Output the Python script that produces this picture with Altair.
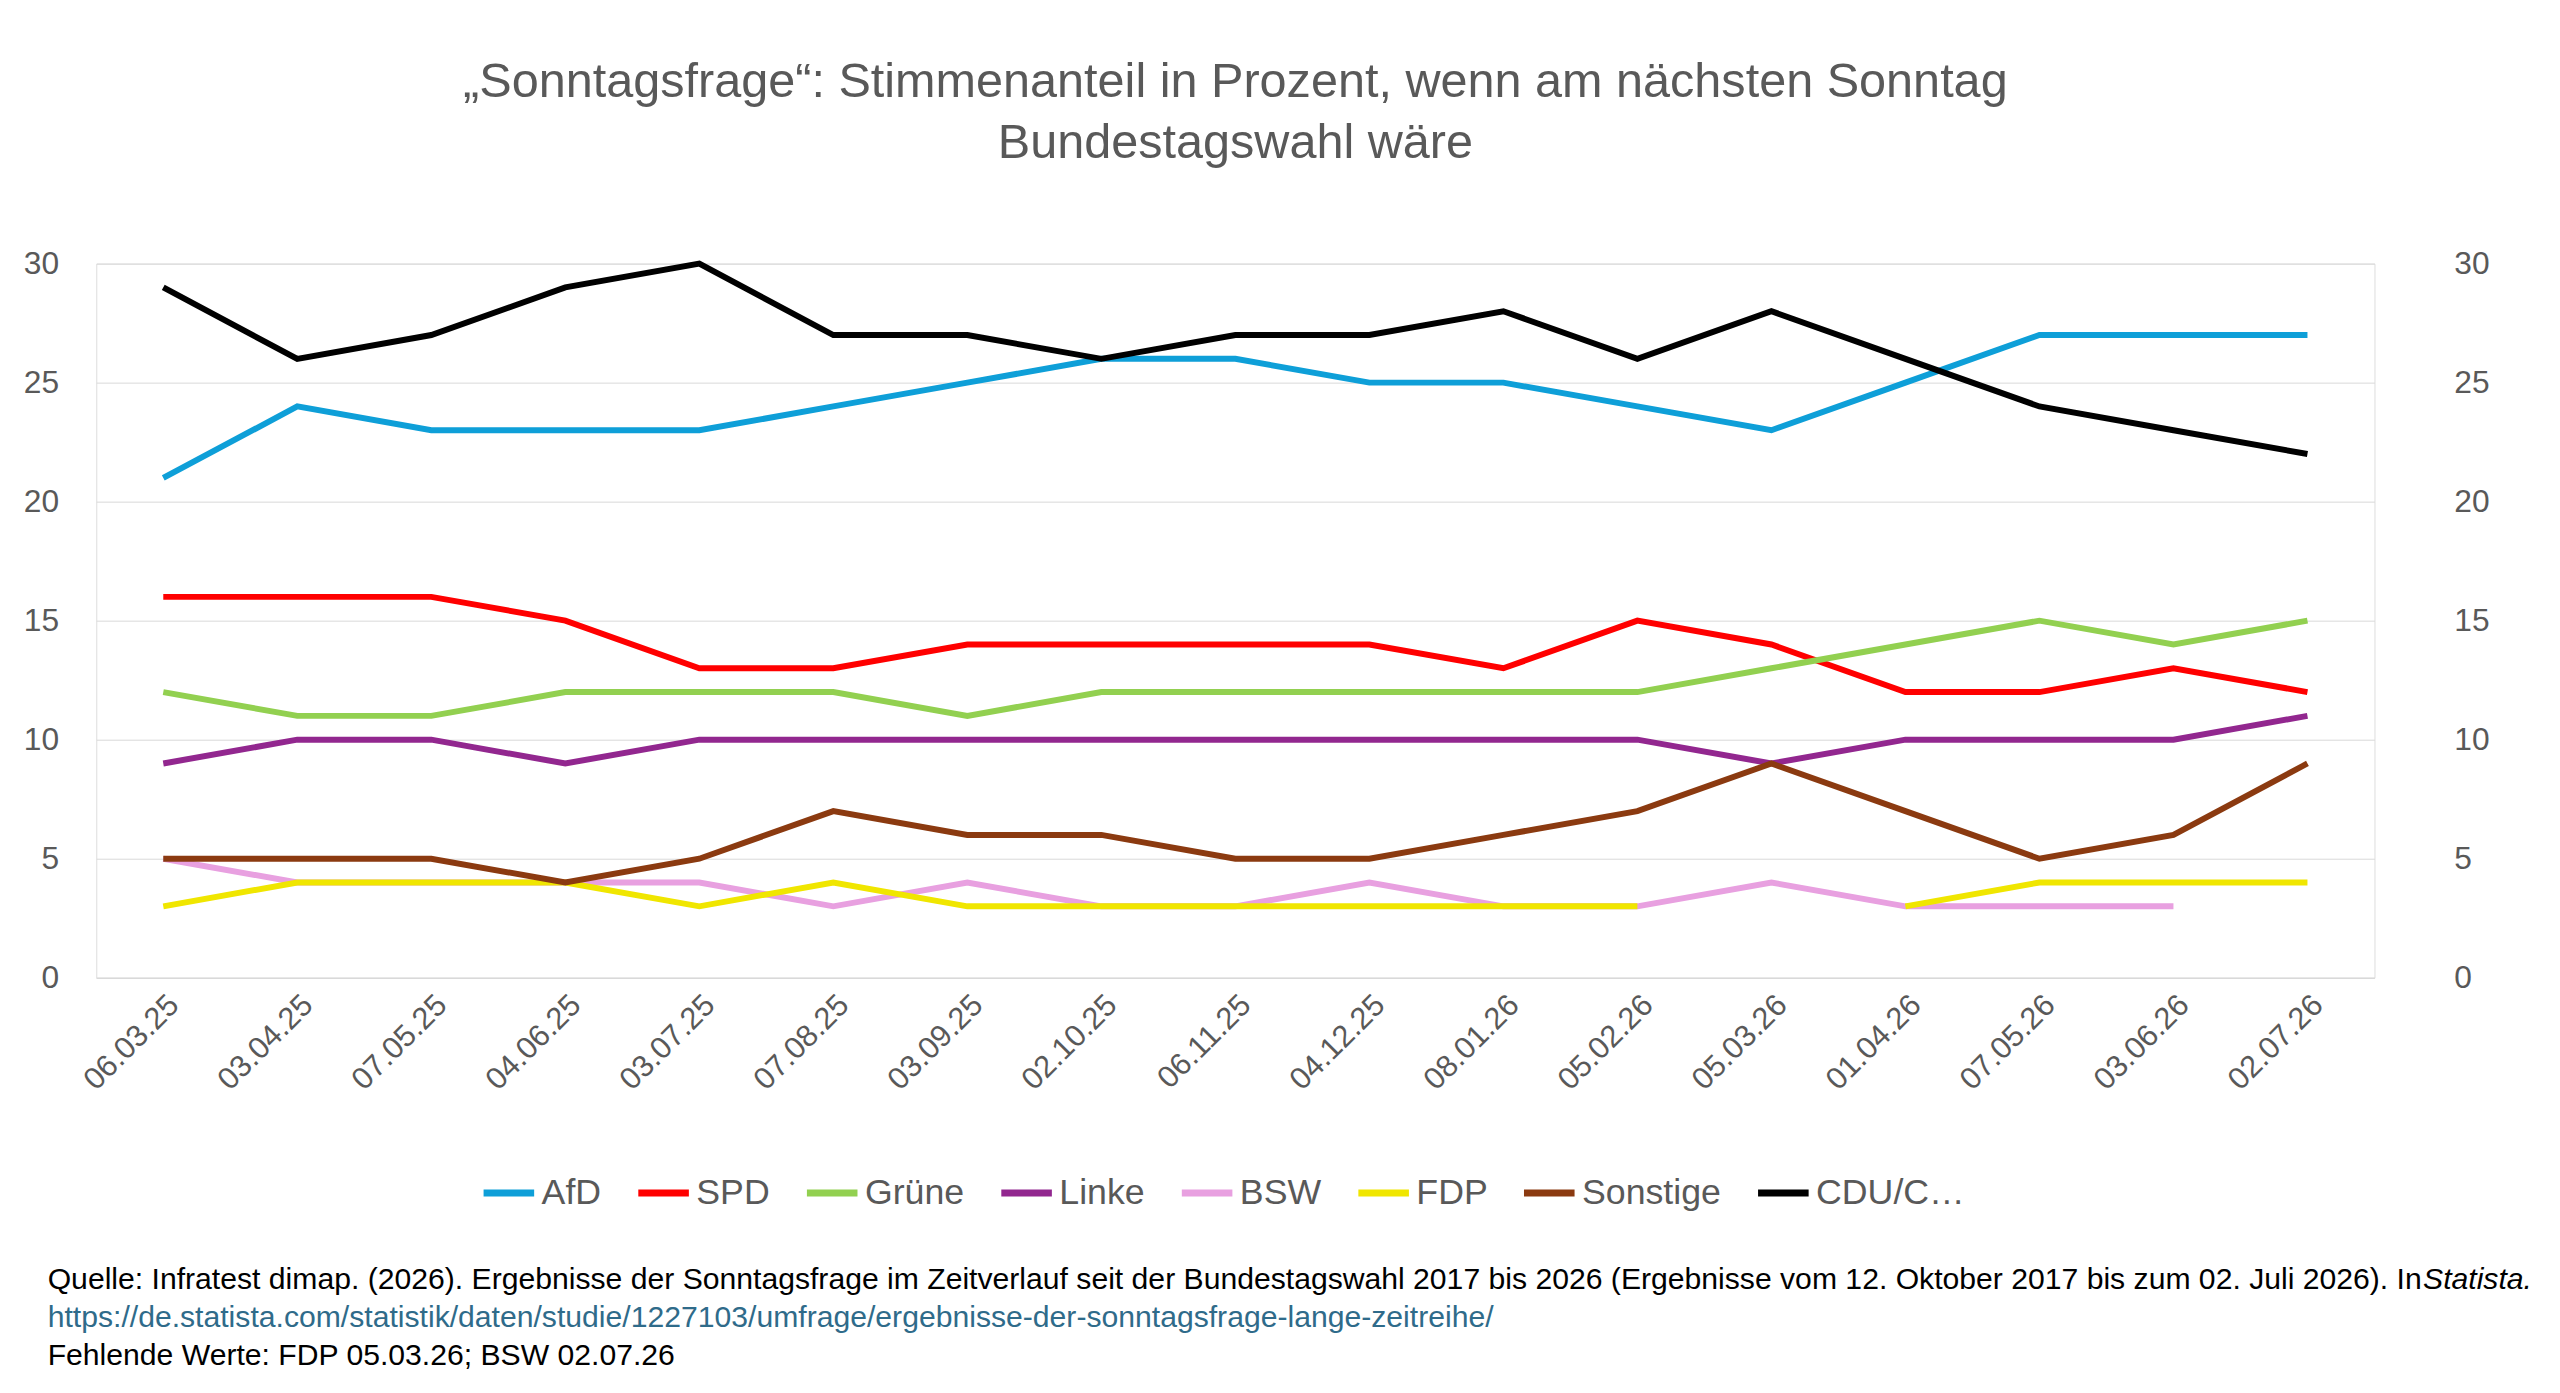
import pandas as pd
import altair as alt

dates = ["06.03.25", "03.04.25", "07.05.25", "04.06.25", "03.07.25", "07.08.25",
         "03.09.25", "02.10.25", "06.11.25", "04.12.25", "08.01.26", "05.02.26",
         "05.03.26", "01.04.26", "07.05.26", "03.06.26", "02.07.26"]

afd = [21, 24, 23, 23, 23, 24, 25, 26, 26, 25, 25, 24, 23, 25, 27, 27, 27]
spd = [16, 16, 16, 15, 13, 13, 14, 14, 14, 14, 13, 15, 14, 12, 12, 13, 12]
gruene = [12, 11, 11, 12, 12, 12, 11, 12, 12, 12, 12, 12, 13, 14, 15, 14, 15]
linke = [9, 10, 10, 9, 10, 10, 10, 10, 10, 10, 10, 10, 9, 10, 10, 10, 11]
bsw = [5, 4, 4, 4, 4, 3, 4, 3, 3, 4, 3, 3, 4, 3, 3, 3, None]
fdp = [3, 4, 4, 4, 3, 4, 3, 3, 3, 3, 3, 3, None, 3, 4, 4, 4]
sonstige = [5, 5, 5, 4, 5, 7, 6, 6, 5, 5, 6, 7, 9, 7, 5, 6, 9]
cdu = [29, 26, 27, 29, 30, 27, 27, 26, 27, 27, 28, 26, 28, 26, 24, 23, 22]

parties = ["AfD", "SPD", "Grüne", "Linke", "BSW", "FDP", "Sonstige", "CDU/CSU"]
colors = ["#0E9FD8", "#FF0000", "#92D050", "#92278F", "#E8A0E0", "#F0E600", "#8B3A10", "#000000"]
series = [afd, spd, gruene, linke, bsw, fdp, sonstige, cdu]

rows = []
for i, (p, vals) in enumerate(zip(parties, series)):
    for d, v in zip(dates, vals):
        rows.append({"datum": d, "partei": p, "wert": v, "ord": i})
df = pd.DataFrame(rows)

W, H = 2297, 720
grey = "#595959"

x = alt.X("datum:N", sort=dates, title=None,
          axis=alt.Axis(labelAngle=-45, labelFontSize=31, labelColor=grey,
                        domain=True, domainColor="#D9D9D9", ticks=False, labelPadding=12),
          scale=alt.Scale(paddingOuter=0.5, paddingInner=0))

ysc = alt.Scale(domain=[0, 30])
lines = alt.Chart(df).mark_line(strokeWidth=6).encode(
    x=x,
    y=alt.Y("wert:Q", scale=ysc, title=None,
            axis=alt.Axis(values=[0, 5, 10, 15, 20, 25, 30], labelFontSize=32, labelColor=grey,
                          grid=True, gridColor="#D9D9D9", domain=False, ticks=False, labelPadding=38)),
    color=alt.Color("partei:N", sort=parties, title=None,
                    scale=alt.Scale(domain=parties, range=colors),
                    legend=alt.Legend(orient="none", legendX=387, legendY=908,
                                      direction="horizontal", symbolType="stroke",
                                      symbolStrokeWidth=7, symbolSize=2600, labelFontSize=36,
                                      labelColor=grey, columnPadding=22, labelOffset=4)),
    order="ord:Q",
)

right = alt.Chart(df).mark_line(opacity=0).encode(
    x=x,
    y=alt.Y("wert:Q", scale=ysc, title=None,
            axis=alt.Axis(orient="right", values=[0, 5, 10, 15, 20, 25, 30], labelFontSize=32,
                          labelColor=grey, grid=False, domain=False, ticks=False, labelPadding=80)),
)

foot1 = ("Quelle: Infratest dimap. (2026). Ergebnisse der Sonntagsfrage im Zeitverlauf seit der "
         "Bundestagswahl 2017 bis 2026 (Ergebnisse vom 12. Oktober 2017 bis zum 02. Juli 2026). In ")
foot2 = "https://de.statista.com/statistik/daten/studie/1227103/umfrage/ergebnisse-der-sonntagsfrage-lange-zeitreihe/"
foot3 = "Fehlende Werte: FDP 05.03.26; BSW 02.07.26"

def note(txt, yy, color="#000000", xx=-49, style="normal"):
    return alt.Chart(pd.DataFrame({"t": [txt]})).mark_text(
        align="left", baseline="middle", fontSize=30.4, color=color, fontStyle=style,
        font="Liberation Sans").encode(x=alt.value(xx), y=alt.value(yy), text="t:N")

chart = alt.layer(
    lines, right,
    note(foot1, 1025), note("Statista.", 1025, xx=2346, style="italic"),
    note(foot2, 1063, color="#2F6B8A"), note(foot3, 1101),
).resolve_scale(y="independent").properties(
    width=W, height=H,
    title=alt.Title(["„Sonntagsfrage“: Stimmenanteil in Prozent, wenn am nächsten Sonntag",
                     "Bundestagswahl wäre"], fontSize=49, color=grey, fontWeight="normal",
                    anchor="middle", offset=80, lineHeight=62),
    padding={"left": 15, "top": 45, "right": 20, "bottom": 20},
).configure_view(stroke=None).configure(font="Liberation Sans")

chart.save("out.html", embed_options={"renderer": "svg", "actions": False})
